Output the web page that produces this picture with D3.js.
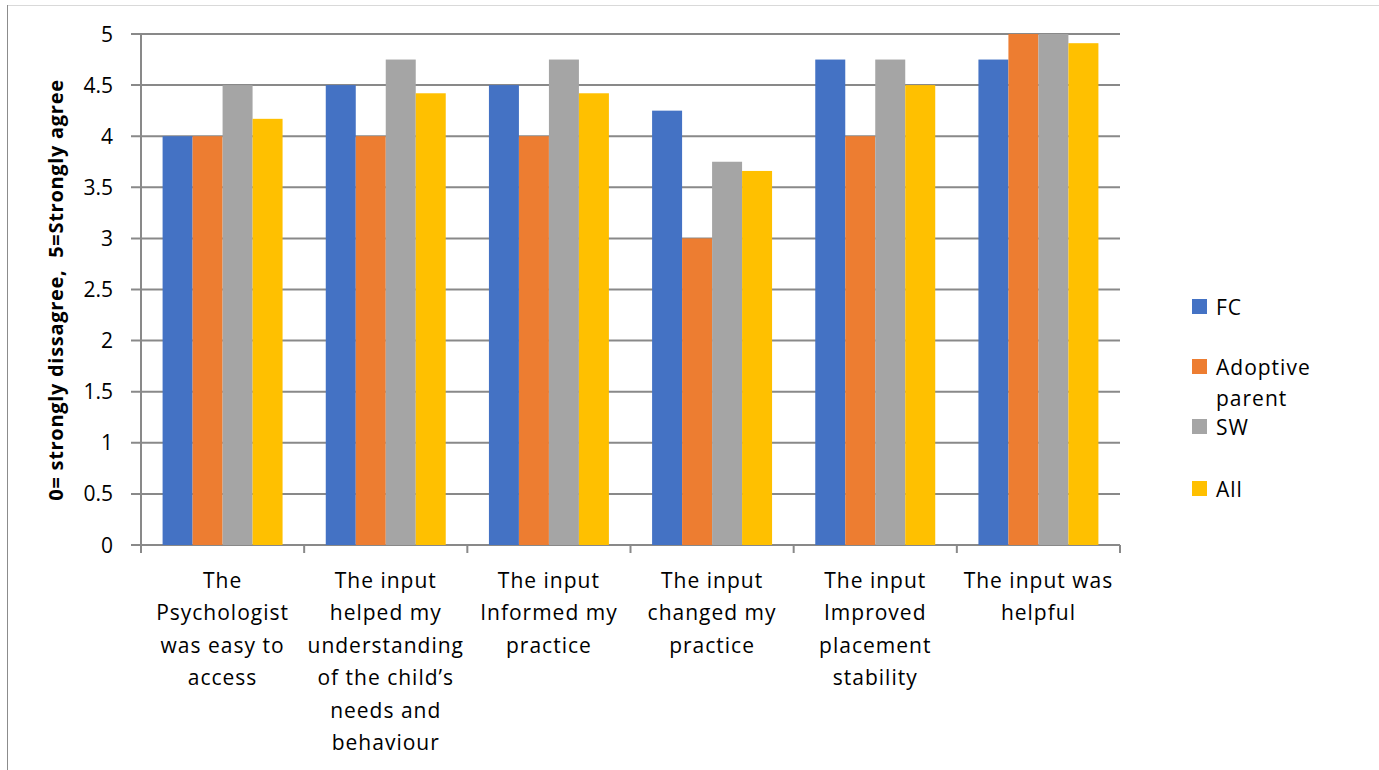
<!DOCTYPE html>
<html>
<head>
<meta charset="utf-8">
<script src="https://cdn.jsdelivr.net/npm/d3@7"></script>
<style>
  html, body { margin: 0; padding: 0; background: #fff; }
  svg { display: block; font-family: "Open Sans", Lato, sans-serif; }
</style>
</head>
<body>
<svg id="chart" width="1379" height="770"></svg>
<script>
// Survey questions (label lines per category)
const categories = [
  ["The", "Psychologist", "was easy to", "access"],
  ["The input", "helped my", "understanding", "of the child’s", "needs and", "behaviour"],
  ["The input", "Informed my", "practice"],
  ["The input", "changed my", "practice"],
  ["The input", "Improved", "placement", "stability"],
  ["The input was", "helpful"]
];
const seriesNames = ["FC", "Adoptive parent", "SW", "All"];
const fcValues       = [4.0, 4.5, 4.5, 4.25, 4.75, 4.75];
const adoptiveValues = [4.0, 4.0, 4.0, 3.0, 4.0, 5.0];
const swValues       = [4.5, 4.75, 4.75, 3.75, 4.75, 5.0];
const allValues      = [4.17, 4.42, 4.42, 3.66, 4.5, 4.91];
const yTicks = [0, 0.5, 1, 1.5, 2, 2.5, 3, 3.5, 4, 4.5, 5];
const yTitle = "0= strongly dissagree,  5=Strongly agree";
const colors = ["#4472C4", "#ED7D31", "#A5A5A5", "#FFC000"];

const series = [fcValues, adoptiveValues, swValues, allValues];
const svg = d3.select("#chart");

// Outer frame edges
svg.append("line").attr("x1", 7).attr("x2", 1379).attr("y1", 5.5).attr("y2", 5.5)
  .attr("stroke", "#d9d9d9").attr("stroke-width", 1);
svg.append("line").attr("x1", 7.5).attr("x2", 7.5).attr("y1", 5).attr("y2", 770)
  .attr("stroke", "#8c8c8c").attr("stroke-width", 1);

const plot = { left: 141, right: 1120, top: 34, bottom: 545 };

const x0 = d3.scaleBand().domain(d3.range(categories.length))
  .range([plot.left, plot.right]).paddingInner(0).paddingOuter(0);
const x1 = d3.scaleBand().domain(d3.range(series.length))
  .range([0, x0.bandwidth()]).paddingOuter(0.72).paddingInner(0);
const y = d3.scaleLinear().domain([0, 5]).range([plot.bottom, plot.top]);

const gridColor = "#898989";

// Horizontal gridlines with left tick stubs
svg.append("g").selectAll("line").data(yTicks).join("line")
  .attr("x1", plot.left - 10).attr("x2", plot.right)
  .attr("y1", d => y(d)).attr("y2", d => y(d))
  .attr("stroke", gridColor).attr("stroke-width", 2);

// Y tick labels
svg.append("g").selectAll("text").data(yTicks).join("text")
  .attr("x", plot.left - 28).attr("y", d => y(d))
  .attr("dy", "0.36em").attr("text-anchor", "end")
  .attr("font-size", 21).attr("fill", "#000")
  .text(d => d);

// Bars
const groups = svg.append("g").selectAll("g").data(categories).join("g")
  .attr("transform", (d, i) => `translate(${x0(i)},0)`);
groups.selectAll("rect")
  .data((d, i) => series.map((s, k) => ({ k, v: s[i] })))
  .join("rect")
  .attr("x", d => x1(d.k))
  .attr("width", x1.bandwidth())
  .attr("y", d => y(d.v))
  .attr("height", d => y(0) - y(d.v))
  .attr("fill", d => colors[d.k]);

// Vertical axis line and category tick marks
svg.append("line").attr("x1", plot.left).attr("x2", plot.left)
  .attr("y1", plot.top).attr("y2", plot.bottom + 8)
  .attr("stroke", gridColor).attr("stroke-width", 2);
const catEdges = d3.range(categories.length + 1).map(i => plot.left + i * x0.step());
svg.append("g").selectAll("line").data(catEdges).join("line")
  .attr("x1", d => d).attr("x2", d => d)
  .attr("y1", plot.bottom).attr("y2", plot.bottom + 8)
  .attr("stroke", gridColor).attr("stroke-width", 2);

// Category labels
const catLabels = svg.append("g").selectAll("text").data(categories).join("text")
  .attr("text-anchor", "middle").attr("font-size", 21).attr("fill", "#000")
  .attr("letter-spacing", 1);
catLabels.each(function(lines, i) {
  d3.select(this).selectAll("tspan").data(lines).join("tspan")
    .attr("x", x0(i) + x0.bandwidth() / 2)
    .attr("y", (d, j) => 588 + j * 32.4)
    .text(d => d);
});

// Y axis title
svg.append("text")
  .attr("transform", `translate(63,290) rotate(-90)`)
  .attr("text-anchor", "middle")
  .attr("font-size", 20).attr("font-weight", "bold").attr("fill", "#000")
  .attr("letter-spacing", 0.7)
  .attr("xml:space", "preserve")
  .style("white-space", "pre")
  .text(yTitle);

// Legend
const legendItems = [
  { name: ["FC"], y: 299 },
  { name: ["Adoptive", "parent"], y: 359 },
  { name: ["SW"], y: 419 },
  { name: ["All"], y: 481 }
];
const legend = svg.append("g").selectAll("g").data(legendItems).join("g");
legend.append("rect")
  .attr("x", 1192).attr("y", d => d.y).attr("width", 15).attr("height", 15)
  .attr("fill", (d, i) => colors[i]);
legend.append("text")
  .attr("font-size", 21).attr("fill", "#000").attr("letter-spacing", 1)
  .each(function(d) {
    d3.select(this).selectAll("tspan").data(d.name).join("tspan")
      .attr("x", 1216).attr("y", (t, j) => d.y + 16 + j * 31)
      .text(t => t);
  });
</script>
</body>
</html>
